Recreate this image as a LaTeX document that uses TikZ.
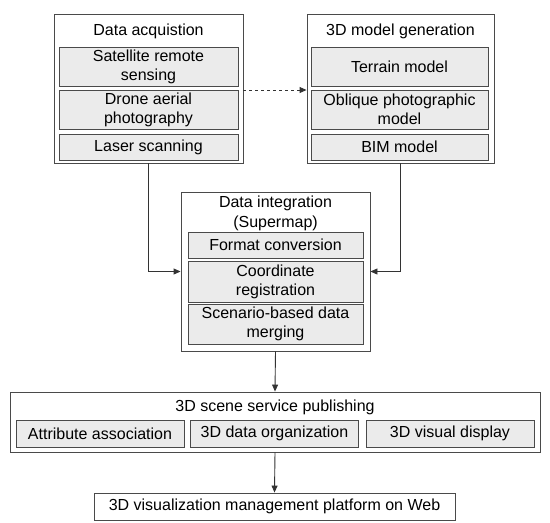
\documentclass[tikz,border=0pt]{standalone}
\usepackage{fontspec}
\setmainfont{Liberation Sans}
\usetikzlibrary{arrows.meta}
\definecolor{edge}{HTML}{4A4A4A}
\definecolor{innerfill}{HTML}{EBEBEB}
\tikzset{
  outerbox/.style={draw=edge, line width=0.9pt, fill=white, inner sep=0pt},
  innerbox/.style={draw=edge, line width=0.9pt, fill=innerfill, inner sep=0pt, align=center,
    font=\fontsize{16}{19}\selectfont},
  title/.style={inner sep=0pt, align=center, font=\fontsize{16}{20}\selectfont},
  conn/.style={draw=black!80, line width=0.9pt, -{Triangle[length=7pt,width=6pt]}},
}
\begin{document}
\begin{tikzpicture}[x=1pt, y=-1pt]
\useasboundingbox (0,0) rectangle (550,523);
% Data acquisition
\node[outerbox, minimum width=189pt, minimum height=149pt] (acq) at (148.5,88.5) {};
\node[title] (acqT) at (148.5,31) {Data acquistion};
\node[innerbox, minimum width=179pt, minimum height=39pt] (sat) at (148.5,66.5) {Satellite remote\\sensing};
\node[innerbox, minimum width=179pt, minimum height=39pt] (drone) at (148.5,109.5) {Drone aerial\\photography};
\node[innerbox, minimum width=179pt, minimum height=26pt] (laser) at (148.5,147) {Laser scanning};
% 3D model generation
\node[outerbox, minimum width=187pt, minimum height=149pt] (gen) at (400.5,88.5) {};
\node[title] (genT) at (400.5,31) {3D model generation};
\node[innerbox, minimum width=177pt, minimum height=39pt] (terrain) at (399.5,66.5) {Terrain model};
\node[innerbox, minimum width=177pt, minimum height=39pt] (oblique) at (399.5,109.5) {Oblique photographic\\model};
\node[innerbox, minimum width=177pt, minimum height=26pt] (bim) at (399.5,147) {BIM model};
% Data integration
\node[outerbox, minimum width=189pt, minimum height=159pt] (integ) at (275.5,271.5) {};
\node[title] (integT) at (275.5,213) {Data integration\\(Supermap)};
\node[innerbox, minimum width=175pt, minimum height=26pt] (format) at (275.5,245) {Format conversion};
\node[innerbox, minimum width=175pt, minimum height=41pt] (coord) at (275.5,281.5) {Coordinate\\registration};
\node[innerbox, minimum width=175pt, minimum height=40pt] (scen) at (275.5,324) {Scenario-based data\\merging};
% 3D scene service publishing
\node[outerbox, minimum width=530pt, minimum height=60pt] (pub) at (275,422) {};
\node[title] (pubT) at (275,407) {3D scene service publishing};
\node[innerbox, minimum width=168pt, minimum height=27pt] (attr) at (100,433.5) {Attribute association};
\node[innerbox, minimum width=168pt, minimum height=27pt] (org) at (274.5,433.5) {3D data organization};
\node[innerbox, minimum width=168pt, minimum height=27pt] (vis) at (450,433.5) {3D visual display};
% Platform
\node[outerbox, minimum width=361pt, minimum height=27pt, font=\fontsize{16}{19}\selectfont] (web) at (274.5,506.5) {3D visualization management platform on Web};
% Connectors
\coordinate (dashL) at (acq.east |- 0,90);
\coordinate (dashR) at (gen.west |- 0,90);
\draw[conn, dashed] (dashL) -- (dashR);
\draw[conn] (acq.south) |- (integ.west);
\draw[conn] (gen.south) |- (integ.east);
\draw[conn] (integ.south) -- (pub.north);
\draw[conn] (pub.south) -- (web.north);
\end{tikzpicture}
\end{document}
